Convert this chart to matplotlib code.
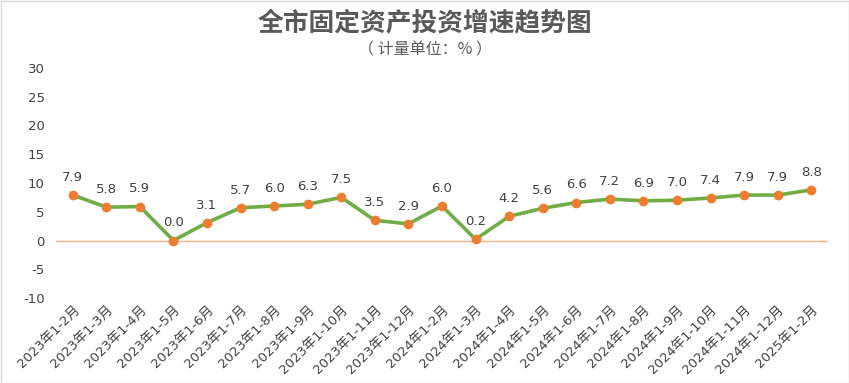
import matplotlib.pyplot as plt
from matplotlib.patches import Rectangle

plt.rcParams['font.family'] = ['DejaVu Sans', 'Noto Sans CJK SC']
plt.rcParams['axes.unicode_minus'] = False

# categories and growth values (%)
months = ['2023年1-%d月' % m for m in range(2, 13)] + \
         ['2024年1-%d月' % m for m in range(2, 13)] + ['2025年1-2月']
growth = [7.9, 5.8, 5.9, 0.0, 3.1, 5.7, 6.0, 6.3, 7.5, 3.5, 2.9,
          6.0, 0.2, 4.2, 5.6, 6.6, 7.2, 6.9, 7.0, 7.4, 7.9, 7.9, 8.8]
yticks = [-10, -5, 0, 5, 10, 15, 20, 25, 30]

fig = plt.figure(figsize=(8.49, 3.83), dpi=100)
ax = fig.add_axes([56 / 849, 1 - 298 / 383, (828 - 56) / 849, (298 - 68) / 383])

x = list(range(len(months)))
ax.plot(x, growth, color='#70AD47', lw=2.6, zorder=3)
ax.scatter(x, growth, s=36, color='#ED7D31', zorder=4)
for xi, v in zip(x, growth):
    ax.annotate('%.1f' % v, (xi, v), xytext=(0, 8), textcoords='offset points',
                ha='center', va='bottom', fontsize=9.5, color='#404040')

ax.axhline(0, color='#F4B183', lw=1, zorder=1)
ax.set_xlim(-0.5, len(months) - 0.5)
ax.set_ylim(-10, 30)
ax.set_yticks(yticks)
ax.set_xticks(x)
ax.set_xticklabels(months, rotation=45, ha='right', rotation_mode='anchor')
ax.tick_params(axis='both', length=0, labelsize=9.5, labelcolor='#404040')
ax.tick_params(axis='x', pad=4)
ax.tick_params(axis='y', pad=8)
for s in ax.spines.values():
    s.set_visible(False)

fig.text(0.5, 1 - 24 / 383, '全市固定资产投资增速趋势图', ha='center', va='center',
         fontsize=18.5, fontweight='bold', color='#595959', family='Noto Sans CJK SC')
fig.text(0.5, 1 - 50 / 383, '（ 计量单位：% ）', ha='center', va='center',
         fontsize=11.5, color='#595959', family='Noto Sans CJK SC')

fig.patches.append(Rectangle((0.5 / 849, 0.5 / 383), 1 - 1 / 849, 1 - 1 / 383,
                             transform=fig.transFigure, fill=False,
                             edgecolor='#D9D9D9', lw=1))

fig.savefig('out.png', dpi=100)
